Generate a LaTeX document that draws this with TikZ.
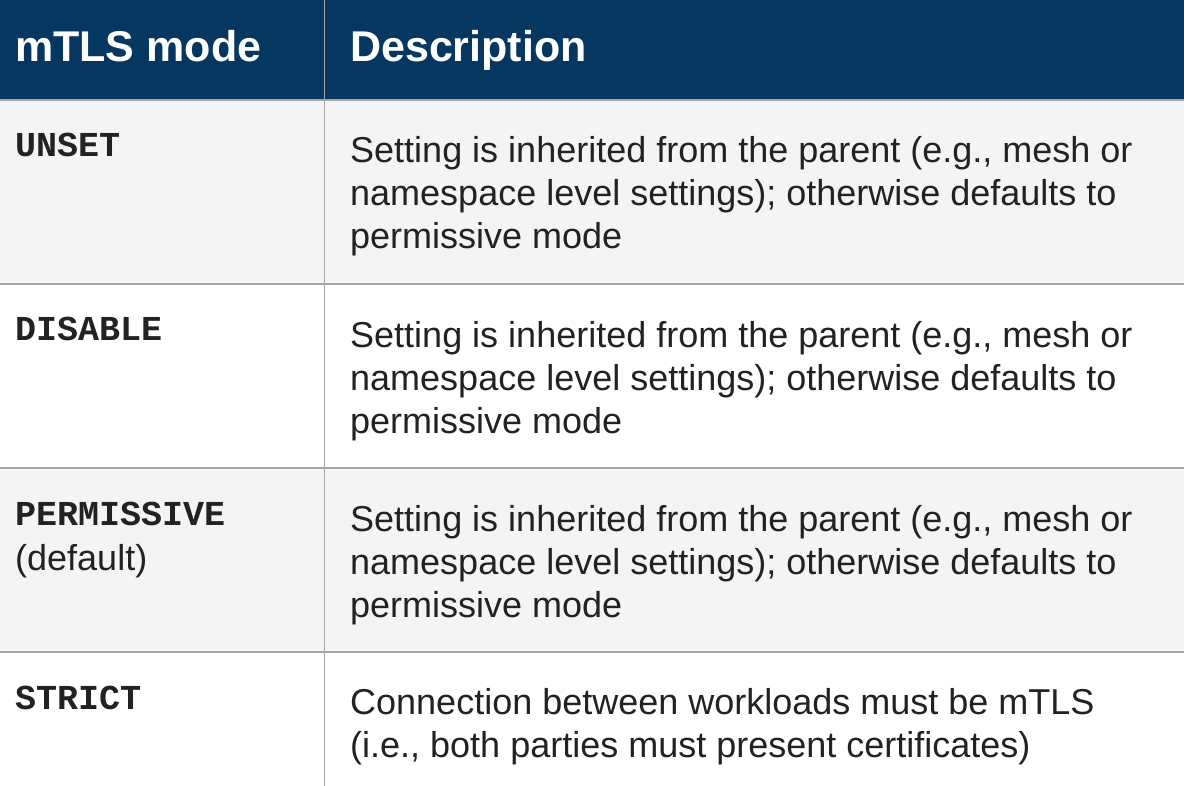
\documentclass[tikz,border=0pt]{standalone}
\usepackage{fontspec}
\setmainfont{Liberation Sans}
\newfontfamily\modefont{Liberation Mono}
\definecolor{hdblue}{HTML}{053761}
\definecolor{rowgray}{HTML}{F4F4F4}
\definecolor{rule}{HTML}{A6A6A6}
\definecolor{ink}{HTML}{222222}
\begin{document}
\begin{tikzpicture}[x=1pt,y=-1pt,
    head/.style={anchor=base west,inner sep=0,text=white,font=\fontsize{43}{50}\selectfont\bfseries},
    mode/.style={anchor=base west,inner sep=0,text=ink,font=\fontsize{35}{43}\selectfont\modefont\bfseries},
    desc/.style={anchor=base west,inner sep=0,text=ink,align=left,font=\fontsize{36}{43}\selectfont}]
        \useasboundingbox (0,0) rectangle (1184,786);
        \fill[hdblue]  (0,0)   rectangle (1184,100);
        \fill[rowgray] (0,100) rectangle (1184,284);
        \fill[rowgray] (0,468) rectangle (1184,652);
        \draw[rule,line width=1.2pt] (0,100) -- (1184,100)
              (0,284) -- (1184,284)
              (0,468) -- (1184,468)
              (0,652) -- (1184,652)
              (324.5,0) -- (324.5,786);
        \node[head] (hmode) at (15,62)  {mTLS mode};
        \node[head] (hdesc) at (350,62) {Description};
        \node[mode] (unset)   at (15,157) {UNSET};
        \node[mode] (disable) at (15,341) {DISABLE};
        \node[mode] (permis)  at (15,525) {PERMISSIVE};
        \node[desc] (deflt)   at (15,570) {(default)};
        \node[mode] (strict)  at (15,709) {STRICT};
        % desc nodes sit on the baseline of their last line
        \node[desc] (dunset)   at (350,249) {Setting is inherited from the parent (e.g., mesh or\\namespace level settings); otherwise defaults to\\permissive mode};
        \node[desc] (ddisable) at (350,433) {Setting is inherited from the parent (e.g., mesh or\\namespace level settings); otherwise defaults to\\permissive mode};
        \node[desc] (dpermis)  at (350,617) {Setting is inherited from the parent (e.g., mesh or\\namespace level settings); otherwise defaults to\\permissive mode};
        \node[desc] (dstrict)  at (350,757) {Connection between workloads must be mTLS\\(i.e., both parties must present certificates)};
    \end{tikzpicture}
\end{document}
